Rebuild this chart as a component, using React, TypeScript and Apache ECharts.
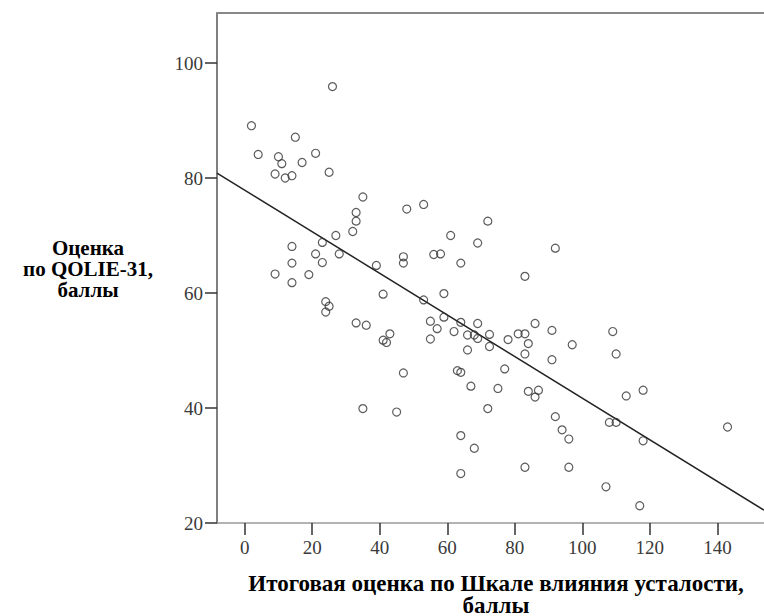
import React, { useEffect, useRef } from "react";
import * as echarts from "echarts";

// Итоговая оценка по Шкале влияния усталости (x)
const fatigueScores = [
  26, 2, 15, 4, 10, 11, 17, 21, 9, 12, 14, 25, 35, 33, 33, 32, 27, 48, 53, 72,
  61, 69, 14, 23, 21, 28, 14, 23, 47, 47, 56, 58, 64, 39, 92, 9, 14, 19, 24, 25,
  24, 41, 33, 36, 43, 41, 42, 53, 59, 55, 59, 64, 69, 57, 62, 55, 66, 68, 69, 72.5,
  72.5, 66, 47, 63, 64, 67, 35, 45, 72, 64, 68, 64, 83, 86, 91, 109, 81, 83, 78, 84,
  83, 97, 91, 110, 77, 75, 84, 87, 86, 113, 118, 92, 94, 96, 108, 110, 118, 143, 83, 96,
  107, 117,
];

// Оценка по QOLIE-31 (y)
const qolieScores = [
  95.9, 89.1, 87.1, 84.1, 83.7, 82.5, 82.7, 84.3, 80.7, 80.0, 80.4, 81.0, 76.7, 74.0, 72.5, 70.7, 70.0, 74.6, 75.4, 72.5,
  70.0, 68.7, 68.1, 68.8, 66.8, 66.8, 65.2, 65.3, 66.3, 65.2, 66.7, 66.8, 65.2, 64.8, 67.8, 63.3, 61.8, 63.2, 58.5, 57.7,
  56.7, 59.8, 54.8, 54.4, 52.9, 51.8, 51.4, 58.8, 59.9, 55.1, 55.8, 54.9, 54.7, 53.8, 53.3, 52.0, 52.7, 52.7, 52.1, 52.8,
  50.7, 50.1, 46.1, 46.5, 46.2, 43.8, 39.9, 39.3, 39.9, 35.2, 33.0, 28.6, 62.9, 54.7, 53.5, 53.3, 52.9, 52.9, 51.9, 51.2,
  49.4, 51.0, 48.4, 49.4, 46.8, 43.4, 42.9, 43.1, 41.9, 42.1, 43.1, 38.5, 36.2, 34.6, 37.5, 37.5, 34.3, 36.7, 29.7, 29.7,
  26.3, 23.0,
];

const xTickValues = [0, 20, 40, 60, 80, 100, 120, 140];
const yTickValues = [20, 40, 60, 80, 100];
const xRange = [-8.2, 153.8];
const yRange = [20, 108.7];
const fitIntercept = 77.9;
const fitSlope = -0.362;

const xTitle = "Итоговая оценка по Шкале влияния усталости,\nбаллы";
const yTitle = "Оценка\nпо QOLIE-31,\nбаллы";

export default function App() {
  const ref = useRef<HTMLDivElement>(null);
  useEffect(() => {
    document.body.style.margin = "0";
    const chart = echarts.init(ref.current!, null, { renderer: "svg" });
    const points = fatigueScores.map((x, i) => [x, qolieScores[i]]);
    const fitLine = xRange.map((x) => [x, fitIntercept + fitSlope * x]);
    const labelFont = {
      fontFamily: '"Liberation Serif", serif',
      fontSize: 19,
      color: "#3a3a3a",
    };
    chart.setOption({
      animation: false,
      grid: { left: 217, top: 13, right: 0, bottom: 93 },
      xAxis: [
        {
          type: "value",
          min: xRange[0],
          max: xRange[1],
          position: "bottom",
          splitLine: { show: false },
          axisLine: { show: true, onZero: false, lineStyle: { color: "#999", width: 1.5 } },
          axisTick: {
            show: true,
            length: 12,
            customValues: xTickValues,
            lineStyle: { color: "#333", width: 1.5 },
          },
          axisLabel: { customValues: xTickValues, margin: 15, ...labelFont },
        },
        {
          type: "value",
          min: xRange[0],
          max: xRange[1],
          position: "top",
          splitLine: { show: false },
          axisLine: { show: true, onZero: false, lineStyle: { color: "#888", width: 2 } },
          axisTick: { show: false },
          axisLabel: { show: false },
        },
      ],
      yAxis: {
        type: "value",
        min: yRange[0],
        max: yRange[1],
        splitLine: { show: false },
        axisLine: { show: true, onZero: false, lineStyle: { color: "#555", width: 1.5 } },
        axisTick: {
          show: true,
          length: 12,
          customValues: yTickValues,
          lineStyle: { color: "#333", width: 1.5 },
        },
        axisLabel: { customValues: yTickValues, margin: 14, ...labelFont },
      },
      series: [
        {
          type: "line",
          data: fitLine,
          symbol: "none",
          lineStyle: { color: "#222", width: 1.5 },
          z: 2,
        },
        {
          type: "scatter",
          data: points,
          symbol: "circle",
          symbolSize: 8,
          itemStyle: { color: "rgba(0,0,0,0)", borderColor: "#333", borderWidth: 1.2 },
          z: 3,
        },
      ],
      graphic: [
        {
          type: "text",
          x: 88,
          y: 268.5,
          style: {
            text: yTitle,
            font: 'bold 21px "Liberation Serif", serif',
            lineHeight: 21,
            textAlign: "center",
            textVerticalAlign: "middle",
            fill: "#000",
          },
        },
        {
          type: "text",
          x: 496,
          y: 594,
          style: {
            text: xTitle,
            font: 'bold 23px "Liberation Serif", serif',
            lineHeight: 22,
            textAlign: "center",
            textVerticalAlign: "middle",
            fill: "#000",
          },
        },
      ],
    });
    return () => chart.dispose();
  }, []);
  return <div ref={ref} style={{ width: 764, height: 616 }} />;
}
